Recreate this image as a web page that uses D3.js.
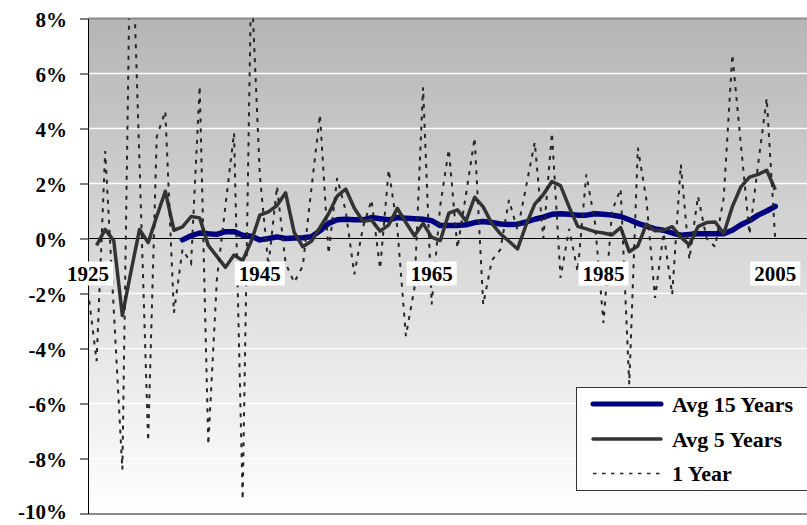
<!DOCTYPE html>
<html>
<head>
<meta charset="utf-8">
<script src="https://cdn.jsdelivr.net/npm/d3@7/dist/d3.min.js"></script>
<style>
  body { margin: 0; background: #fff; }
  svg text { font-family: "Liberation Serif", "DejaVu Serif", "Noto Serif", Tinos, Times, serif; font-weight: bold; fill: #000; }
</style>
</head>
<body>
<div id="chart"></div>
<script>
// data (percent), one value per year 1925..2005
var years = d3.range(1925, 2006);
var oneYear = [
  -1.9, -4.46, 3.18, -2.6, -8.4, 12.6, 2.7, -7.37, 3.7, 4.63,
  -2.7, -0.4, -0.9, 5.54, -7.5, -1.5, 1.2, 3.84, -9.5, 9.5,
  2.3, -1.0, 1.9, -0.9, -1.6, -1.0, 1.8, 4.5, -0.55, 2.2,
  1.0, -1.3, 0.4, 1.4, -1.1, 2.5, 0.4, -3.55, -1.8, 5.5,
  -2.4, 1.2, 3.24, -0.35, 1.6, 3.66, -2.4, -0.8, -0.4, 1.4,
  0.3, 1.9, 3.5, 0.0, 3.84, -1.43, 0.35, -1.2, 2.33, 0.6,
  -3.07, 1.0, 1.8, -5.3, 3.3, 1.4, -2.16, 0.2, -2.04, 2.69,
  -0.76, 1.54, 0.0, -0.3, 1.5, 6.69, 3.4, 0.15, 2.7, 5.1,
  -0.1
];
var avg5 = [
  null, -0.25, 0.33, -0.08, -2.8, -1.2, 0.33, -0.15, 0.8, 1.72,
  0.3, 0.42, 0.8, 0.75, -0.25, -0.65, -1.05, -0.6, -0.8, -0.1,
  0.85, 0.97, 1.2, 1.66, 0.22, -0.3, -0.1, 0.4, 0.9, 1.54,
  1.8, 1.1, 0.63, 0.67, 0.27, 0.49, 1.1, 0.58, 0.1, 0.55,
  0.05, -0.08, 0.92, 1.04, 0.64, 1.5, 1.15, 0.55, 0.17, -0.1,
  -0.38, 0.5, 1.25, 1.6, 2.07, 1.92, 1.15, 0.44, 0.35, 0.25,
  0.2, 0.13, 0.4, -0.48, -0.27, 0.52, 0.28, 0.3, 0.43, 0.05,
  -0.23, 0.43, 0.58, 0.6, 0.18, 1.16, 1.88, 2.23, 2.33, 2.48,
  1.77
];
var avg15 = [
  null, null, null, null, null, null, null, null, null, null,
  null, -0.05, 0.1, 0.2, 0.17, 0.15, 0.25, 0.25, 0.12, 0.08,
  -0.05, 0.0, 0.06, 0.0, 0.02, 0.03, 0.06, 0.28, 0.55, 0.68,
  0.7, 0.68, 0.68, 0.76, 0.72, 0.68, 0.76, 0.74, 0.72, 0.7,
  0.65, 0.47, 0.47, 0.47, 0.5, 0.58, 0.62, 0.58, 0.53, 0.51,
  0.52, 0.6, 0.7, 0.78, 0.88, 0.9, 0.88, 0.85, 0.85, 0.9,
  0.88, 0.85, 0.8, 0.68, 0.55, 0.45, 0.35, 0.3, 0.2, 0.12,
  0.15, 0.17, 0.17, 0.17, 0.17, 0.3, 0.5, 0.65, 0.85, 1.0,
  1.17
];
var yTicks = [8, 6, 4, 2, 0, -2, -4, -6, -8, -10];
var yearLabels = [1925, 1945, 1965, 1985, 2005];
var seriesNames = ["Avg 15 Years", "Avg 5 Years", "1 Year"];

function init(){
    var w = 807, h = 525;
    var svg = d3.select("#chart").append("svg")
                .attr("width", w)
                .attr("height", h);

    // plot area
    var left = 88, right = 807, top = 18.5, bottom = 513.5;

    var xScale = d3.scaleLinear().domain([1925, 2005]).range([left, 775.3]);
    var yScale = d3.scaleLinear().domain([-10, 8]).range([bottom, top]);

    var defs = svg.append("defs");
    var grad = defs.append("linearGradient").attr("id", "bg")
                .attr("x1", 0).attr("y1", 0).attr("x2", 0).attr("y2", 1);
    grad.append("stop").attr("offset", "0%").attr("stop-color", "#b5b5b5");
    grad.append("stop").attr("offset", "100%").attr("stop-color", "#ffffff");
    defs.append("clipPath").attr("id", "clip").append("rect")
        .attr("x", left).attr("y", top)
        .attr("width", right - left).attr("height", bottom - top);

    svg.append("rect")
        .attr("x", left).attr("y", top)
        .attr("width", right - left).attr("height", bottom - top)
        .attr("fill", "url(#bg)");

    // white gridlines
    svg.selectAll(".grid")
        .data(yTicks.filter(d => d != 0 && d != 8 && d != -10))
        .enter().append("line")
        .attr("class", "grid")
        .attr("x1", left).attr("x2", right)
        .attr("y1", d => yScale(d)).attr("y2", d => yScale(d))
        .attr("stroke", "#ffffff").attr("stroke-width", 1.6);

    // top and bottom border
    svg.append("line").attr("x1", left).attr("x2", right)
        .attr("y1", top).attr("y2", top)
        .attr("stroke", "#8c8c8c").attr("stroke-width", 2);
    svg.append("line").attr("x1", left).attr("x2", right)
        .attr("y1", bottom + 0.5).attr("y2", bottom + 0.5)
        .attr("stroke", "#8c8c8c").attr("stroke-width", 2);

    // zero line
    svg.append("line").attr("x1", left).attr("x2", right)
        .attr("y1", yScale(0)).attr("y2", yScale(0))
        .attr("stroke", "#000").attr("stroke-width", 1);

    // y axis
    var yAxis = d3.axisLeft(yScale)
        .tickValues(yTicks)
        .tickFormat(d => d + "%")
        .tickSize(8)
        .tickSizeOuter(0)
        .tickPadding(13);
    var gy = svg.append("g").attr("transform", "translate(" + left + ",0)").call(yAxis);
    gy.attr("font-family", null);
    gy.select(".domain").attr("stroke", "#000");
    gy.selectAll(".tick line").attr("stroke", "#000");
    gy.selectAll("text")
        .attr("dy", d => d == -10 ? "0.22em" : "0.36em")
        .style("font-size", "21px")
        .attr("fill", "#000");

    // series
    var rows = years.map((yr, i) => ({year: yr, one: oneYear[i], a5: avg5[i], a15: avg15[i]}));
    var plot = svg.append("g").attr("clip-path", "url(#clip)");

    var line15 = d3.line().defined(d => d.a15 != null)
        .x(d => xScale(d.year)).y(d => yScale(d.a15));
    var line5 = d3.line().defined(d => d.a5 != null)
        .x(d => xScale(d.year)).y(d => yScale(d.a5));
    var line1 = d3.line()
        .x(d => xScale(d.year)).y(d => yScale(d.one));

    plot.append("path").datum(rows).attr("d", line15)
        .attr("fill", "none").attr("stroke", "#000080")
        .attr("stroke-width", 5.5).attr("stroke-linejoin", "round").attr("stroke-linecap", "round");
    plot.append("path").datum(rows).attr("d", line5)
        .attr("fill", "none").attr("stroke", "#333333")
        .attr("stroke-width", 3.5).attr("stroke-linejoin", "round");
    plot.append("path").datum(rows).attr("d", line1)
        .attr("fill", "none").attr("stroke", "#262626")
        .attr("stroke-width", 2).attr("stroke-dasharray", "4,6");

    // year labels with white box
    var xl = svg.selectAll(".xlab")
        .data(yearLabels)
        .enter().append("g")
        .attr("class", "xlab")
        .attr("transform", d => "translate(" + xScale(d) + ",273.5)");
    xl.append("rect")
        .attr("x", -25).attr("y", -12)
        .attr("width", 50).attr("height", 24)
        .attr("fill", "#fff");
    xl.append("text")
        .attr("text-anchor", "middle")
        .attr("y", 7.5)
        .style("font-size", "21px")
        .text(d => d);

    // legend
    var lg = svg.append("g");
    lg.append("rect")
        .attr("x", 576.5).attr("y", 387.5)
        .attr("width", 240).attr("height", 103)
        .attr("fill", "#fff").attr("stroke", "#333").attr("stroke-width", 1);
    var legendY = [404, 439, 473.5];
    var styles = [
        {stroke: "#000080", width: 5, dash: null},
        {stroke: "#333333", width: 3.5, dash: null},
        {stroke: "#262626", width: 1.6, dash: "3.5,5.5"}
    ];
    seriesNames.forEach(function(name, i){
        var l = lg.append("line")
            .attr("x1", 593).attr("x2", 661)
            .attr("y1", legendY[i]).attr("y2", legendY[i])
            .attr("stroke", styles[i].stroke)
            .attr("stroke-width", styles[i].width)
            .attr("stroke-linecap", styles[i].dash ? "butt" : "round");
        if (styles[i].dash) l.attr("stroke-dasharray", styles[i].dash);
        lg.append("text")
            .attr("x", 672).attr("y", legendY[i] + 7.5)
            .style("font-size", "22px")
            .text(name);
    });
}
window.onload = init;
</script>
</body>
</html>
